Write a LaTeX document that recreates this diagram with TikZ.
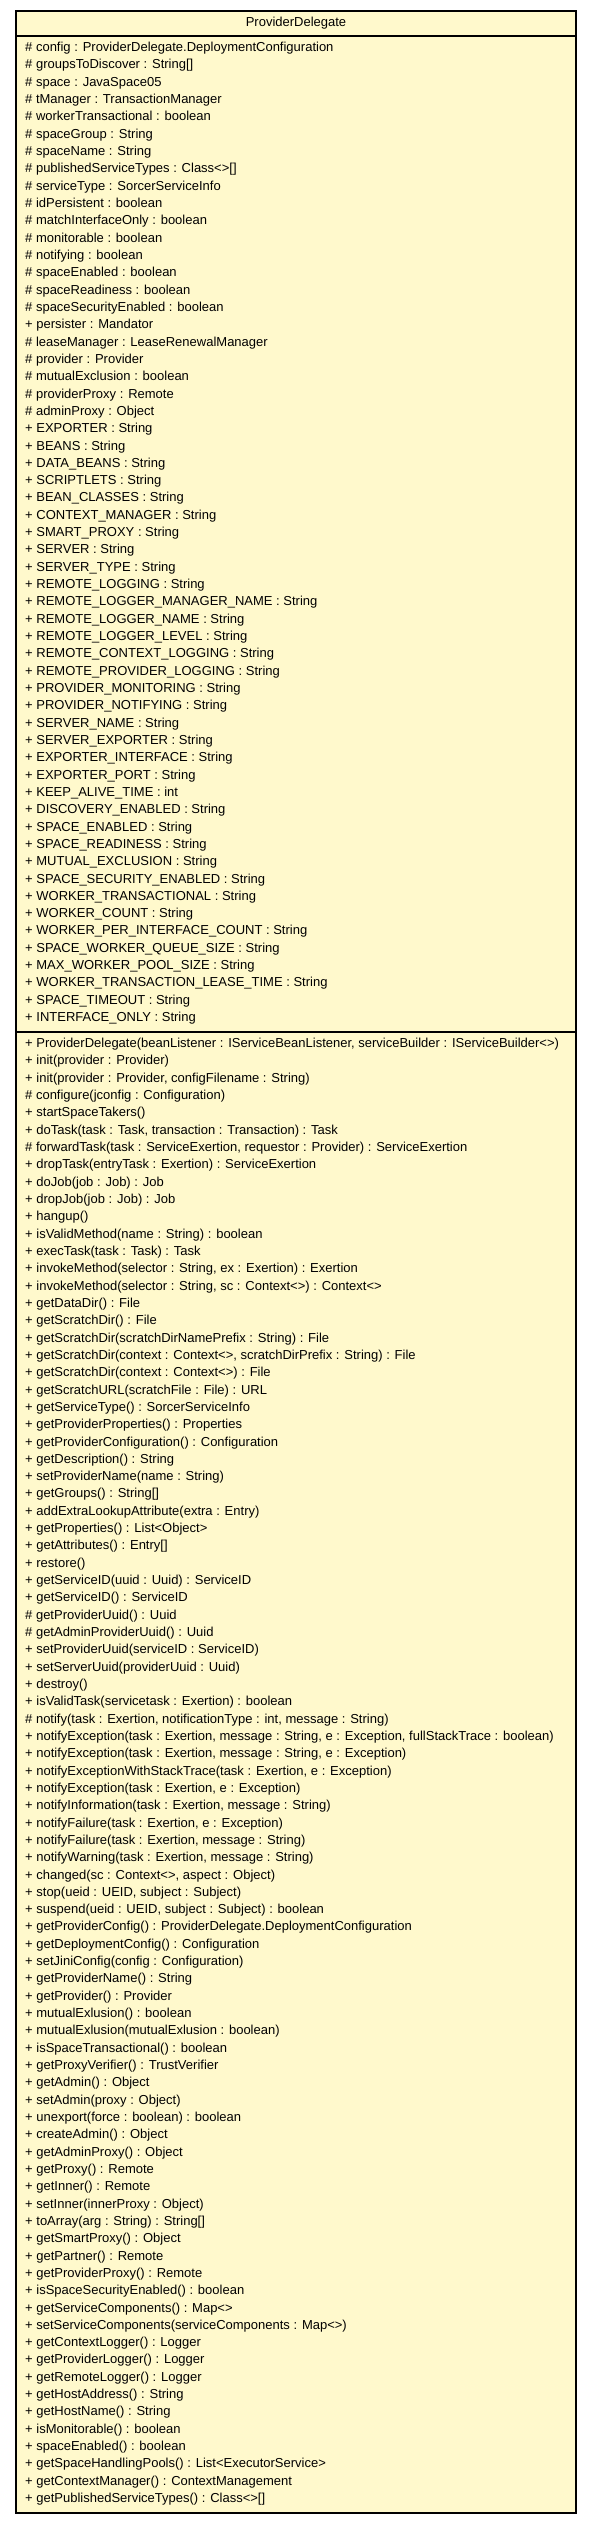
\documentclass[tikz,border=0pt]{standalone}
\usepackage{fontspec}
\setmainfont{Liberation Sans}
\definecolor{umlfill}{RGB}{255,249,204}

\begin{document}
\begin{tikzpicture}[x=1pt,y=-1pt,
    member/.style={anchor=mid west,inner sep=0pt,font=\fontsize{13}{16}\selectfont}]
  \def\lh{17.32}
  \def\xl{16}
  \def\xr{576}
  \useasboundingbox (0,0) rectangle (589,2525);

  % class box
  \draw[line width=1.3pt,fill=umlfill] (\xl,11) rectangle (\xr,2513);
  \draw[line width=1.3pt] (\xl,36) -- (\xr,36);
  \draw[line width=1.3pt] (\xl,1032) -- (\xr,1032);
  \node[member,anchor=mid] (title) at (296,24) {ProviderDelegate};

  % attributes
  \foreach \txt [count=\i] in {
    {\# config : ProviderDelegate.DeploymentConfiguration},
    {\# groupsToDiscover : String[]},
    {\# space : JavaSpace05},
    {\# tManager : TransactionManager},
    {\# workerTransactional : boolean},
    {\# spaceGroup : String},
    {\# spaceName : String},
    {\# publishedServiceTypes : Class<>[]},
    {\# serviceType : SorcerServiceInfo},
    {\# idPersistent : boolean},
    {\# matchInterfaceOnly : boolean},
    {\# monitorable : boolean},
    {\# notifying : boolean},
    {\# spaceEnabled : boolean},
    {\# spaceReadiness : boolean},
    {\# spaceSecurityEnabled : boolean},
    {+ persister : Mandator},
    {\# leaseManager : LeaseRenewalManager},
    {\# provider : Provider},
    {\# mutualExclusion : boolean},
    {\# providerProxy : Remote},
    {\# adminProxy : Object},
    {+ EXPORTER : String},
    {+ BEANS : String},
    {+ DATA\_BEANS : String},
    {+ SCRIPTLETS : String},
    {+ BEAN\_CLASSES : String},
    {+ CONTEXT\_MANAGER : String},
    {+ SMART\_PROXY : String},
    {+ SERVER : String},
    {+ SERVER\_TYPE : String},
    {+ REMOTE\_LOGGING : String},
    {+ REMOTE\_LOGGER\_MANAGER\_NAME : String},
    {+ REMOTE\_LOGGER\_NAME : String},
    {+ REMOTE\_LOGGER\_LEVEL : String},
    {+ REMOTE\_CONTEXT\_LOGGING : String},
    {+ REMOTE\_PROVIDER\_LOGGING : String},
    {+ PROVIDER\_MONITORING : String},
    {+ PROVIDER\_NOTIFYING : String},
    {+ SERVER\_NAME : String},
    {+ SERVER\_EXPORTER : String},
    {+ EXPORTER\_INTERFACE : String},
    {+ EXPORTER\_PORT : String},
    {+ KEEP\_ALIVE\_TIME : int},
    {+ DISCOVERY\_ENABLED : String},
    {+ SPACE\_ENABLED : String},
    {+ SPACE\_READINESS : String},
    {+ MUTUAL\_EXCLUSION : String},
    {+ SPACE\_SECURITY\_ENABLED : String},
    {+ WORKER\_TRANSACTIONAL : String},
    {+ WORKER\_COUNT : String},
    {+ WORKER\_PER\_INTERFACE\_COUNT : String},
    {+ SPACE\_WORKER\_QUEUE\_SIZE : String},
    {+ MAX\_WORKER\_POOL\_SIZE : String},
    {+ WORKER\_TRANSACTION\_LEASE\_TIME : String},
    {+ SPACE\_TIMEOUT : String},
    {+ INTERFACE\_ONLY : String}}
    \node[member] (attr\i) at (25,{49+(\i-1)*\lh}) {\txt};

  % operations
  \foreach \txt [count=\i] in {
    {+ ProviderDelegate(beanListener : IServiceBeanListener, serviceBuilder : IServiceBuilder<>)},
    {+ init(provider : Provider)},
    {+ init(provider : Provider, configFilename : String)},
    {\# configure(jconfig : Configuration)},
    {+ startSpaceTakers()},
    {+ doTask(task : Task, transaction : Transaction) : Task},
    {\# forwardTask(task : ServiceExertion, requestor : Provider) : ServiceExertion},
    {+ dropTask(entryTask : Exertion) : ServiceExertion},
    {+ doJob(job : Job) : Job},
    {+ dropJob(job : Job) : Job},
    {+ hangup()},
    {+ isValidMethod(name : String) : boolean},
    {+ execTask(task : Task) : Task},
    {+ invokeMethod(selector : String, ex : Exertion) : Exertion},
    {+ invokeMethod(selector : String, sc : Context<>) : Context<>},
    {+ getDataDir() : File},
    {+ getScratchDir() : File},
    {+ getScratchDir(scratchDirNamePrefix : String) : File},
    {+ getScratchDir(context : Context<>, scratchDirPrefix : String) : File},
    {+ getScratchDir(context : Context<>) : File},
    {+ getScratchURL(scratchFile : File) : URL},
    {+ getServiceType() : SorcerServiceInfo},
    {+ getProviderProperties() : Properties},
    {+ getProviderConfiguration() : Configuration},
    {+ getDescription() : String},
    {+ setProviderName(name : String)},
    {+ getGroups() : String[]},
    {+ addExtraLookupAttribute(extra : Entry)},
    {+ getProperties() : List<Object>},
    {+ getAttributes() : Entry[]},
    {+ restore()},
    {+ getServiceID(uuid : Uuid) : ServiceID},
    {+ getServiceID() : ServiceID},
    {\# getProviderUuid() : Uuid},
    {\# getAdminProviderUuid() : Uuid},
    {+ setProviderUuid(serviceID : ServiceID)},
    {+ setServerUuid(providerUuid : Uuid)},
    {+ destroy()},
    {+ isValidTask(servicetask : Exertion) : boolean},
    {\# notify(task : Exertion, notificationType : int, message : String)},
    {+ notifyException(task : Exertion, message : String, e : Exception, fullStackTrace : boolean)},
    {+ notifyException(task : Exertion, message : String, e : Exception)},
    {+ notifyExceptionWithStackTrace(task : Exertion, e : Exception)},
    {+ notifyException(task : Exertion, e : Exception)},
    {+ notifyInformation(task : Exertion, message : String)},
    {+ notifyFailure(task : Exertion, e : Exception)},
    {+ notifyFailure(task : Exertion, message : String)},
    {+ notifyWarning(task : Exertion, message : String)},
    {+ changed(sc : Context<>, aspect : Object)},
    {+ stop(ueid : UEID, subject : Subject)},
    {+ suspend(ueid : UEID, subject : Subject) : boolean},
    {+ getProviderConfig() : ProviderDelegate.DeploymentConfiguration},
    {+ getDeploymentConfig() : Configuration},
    {+ setJiniConfig(config : Configuration)},
    {+ getProviderName() : String},
    {+ getProvider() : Provider},
    {+ mutualExlusion() : boolean},
    {+ mutualExlusion(mutualExlusion : boolean)},
    {+ isSpaceTransactional() : boolean},
    {+ getProxyVerifier() : TrustVerifier},
    {+ getAdmin() : Object},
    {+ setAdmin(proxy : Object)},
    {+ unexport(force : boolean) : boolean},
    {+ createAdmin() : Object},
    {+ getAdminProxy() : Object},
    {+ getProxy() : Remote},
    {+ getInner() : Remote},
    {+ setInner(innerProxy : Object)},
    {+ toArray(arg : String) : String[]},
    {+ getSmartProxy() : Object},
    {+ getPartner() : Remote},
    {+ getProviderProxy() : Remote},
    {+ isSpaceSecurityEnabled() : boolean},
    {+ getServiceComponents() : Map<>},
    {+ setServiceComponents(serviceComponents : Map<>)},
    {+ getContextLogger() : Logger},
    {+ getProviderLogger() : Logger},
    {+ getRemoteLogger() : Logger},
    {+ getHostAddress() : String},
    {+ getHostName() : String},
    {+ isMonitorable() : boolean},
    {+ spaceEnabled() : boolean},
    {+ getSpaceHandlingPools() : List<ExecutorService>},
    {+ getContextManager() : ContextManagement},
    {+ getPublishedServiceTypes() : Class<>[]}}
    \node[member] (op\i) at (25,{1045+(\i-1)*\lh}) {\txt};
\end{tikzpicture}
\end{document}
